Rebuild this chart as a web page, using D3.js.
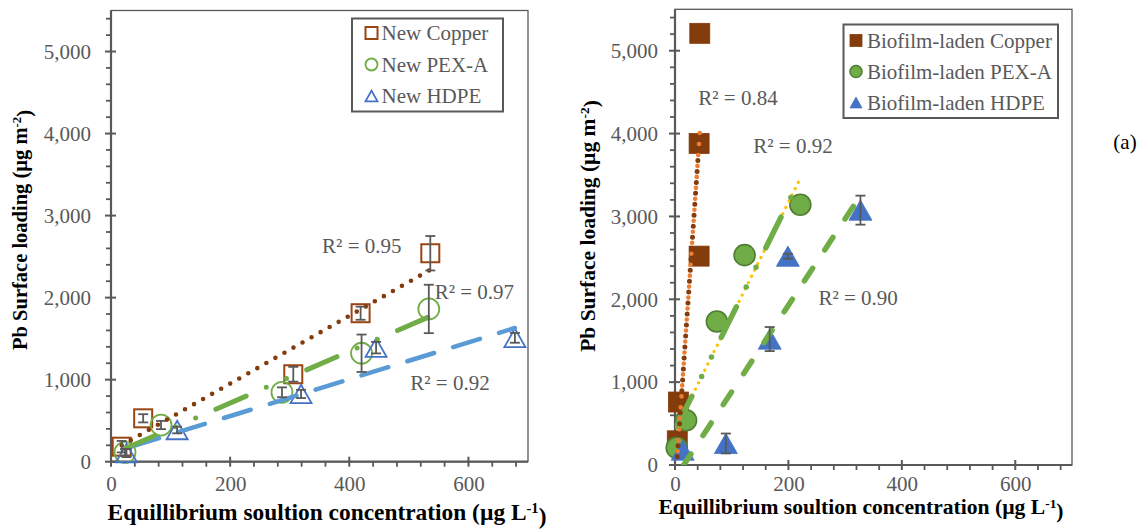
<!DOCTYPE html>
<html><head><meta charset="utf-8">
<script src="https://cdn.jsdelivr.net/npm/d3@7"></script>
<style>
html,body{margin:0;padding:0;background:#fff;}
svg{display:block;}
</style></head>
<body>
<svg id="c" width="1147" height="530"></svg>
<script>
// ---------- DATA ----------
const xTicks = [0, 200, 400, 600];
const yTicks = [0, 1000, 2000, 3000, 4000, 5000];

// Left panel: new pipes
const newCopperX = [18, 54, 306, 419, 536];
const newCopperY = [183, 529, 1066, 1810, 2541];
const newCopperErr = [70, 50, 90, 80, 210];
const newPexX = [23.5, 84, 287, 420.6, 533.5];
const newPexY = [114, 447, 846, 1322, 1862];
const newPexErr = [40, 50, 60, 228, 295];
const newHdpeX = [26, 111, 319, 445, 678];
const newHdpeY = [106, 386, 826, 1390, 1510];
const newHdpeErr = [50, 40, 50, 70, 60];

// Right panel: biofilm-laden pipes
const bioCopperX = [4, 6, 42.5, 42.5, 43.7];
const bioCopperY = [292, 760, 2521, 3881, 5210];
const bioCopperErr = [0, 0, 0, 0, 0];
const bioPexX = [3, 19.5, 73.8, 122.7, 221];
const bioPexY = [208, 540, 1732, 2533, 3141];
const bioPexErr = [0, 0, 0, 0, 0];
const bioHdpeX = [13.6, 89.7, 167, 199, 327];
const bioHdpeY = [180, 260, 1520, 2520, 3076];
const bioHdpeErr = [0, 120, 145, 30, 175];

// Trendline end points [x, y]
const trendNewCopper = [[18, 200], [536, 2340]];
const trendNewPex = [[23.5, 160], [533.5, 1765]];
const trendNewHdpe = [[26, 165], [678, 1630]];
const trendBioCopper = [[4, 100], [44.2, 4060]];
const trendBioPex = [[3, 462], [221, 3460]];
const trendBioHdpe = [[13.6, -18], [327, 3254]];

// R² annotations [x, y, text] in data units
const r2Left = [[421, 2630, "R² = 0.95"], [610, 2070, "R² = 0.97"], [569, 960, "R² = 0.92"]];
const r2Right = [[111, 4435, "R² = 0.84"], [208, 3850, "R² = 0.92"], [323, 2020, "R² = 0.90"]];

const legendLeft = ["New Copper", "New PEX-A", "New HDPE"];
const legendRight = ["Biofilm-laden Copper", "Biofilm-laden PEX-A", "Biofilm-laden HDPE"];
const xTitle = "Equillibrium soultion concentration (µg L";
const yTitle = "Pb Surface loading (µg m";

// ---------- STYLE ----------
const FONT = '"Liberation Serif", "Times New Roman", Tinos, "DejaVu Serif", serif';
const BROWN = "#843C0C", GREEN = "#70AD47", GREEN_D = "#507E32", BLUE = "#4472C4",
      BLUE_L = "#5B9BD5", ORANGE = "#ED7D31", YELLOW = "#FFC000", GREY = "#595959";

const svg = d3.select("#c").attr("font-family", FONT).style("font-family", FONT);
const zip = (xs, ys, es) => xs.map((x, i) => ({x, y: ys[i], e: es[i]}));
const txt = (sel) => sel.attr("font-family", FONT).style("font-family", FONT);

function triPath(w, h) {
  return `M0,${-h/2}L${w/2},${h/2}L${-w/2},${h/2}Z`;
}

function panel(cfg) {
  const g = svg.append("g");
  const x = d3.scaleLinear().domain([0, 700]).range(cfg.xr);
  const y = d3.scaleLinear().domain([0, 5500]).range(cfg.yr);
  const [L, R] = cfg.xr, [B, T] = cfg.yr;

  g.append("rect").attr("x", L).attr("y", T).attr("width", R - L).attr("height", B - T)
    .attr("fill", "none").attr("stroke", GREY).attr("stroke-width", 1.3);

  const clipId = "clip" + cfg.id;
  svg.append("clipPath").attr("id", clipId).append("rect")
    .attr("x", L).attr("y", T).attr("width", R - L).attr("height", B - T);

  g.append("line").attr("x1", L).attr("x2", L).attr("y1", T).attr("y2", B).attr("stroke", GREY).attr("stroke-width", 2.2);
  g.append("line").attr("x1", L).attr("x2", R).attr("y1", B).attr("y2", B).attr("stroke", GREY).attr("stroke-width", 2.2);

  d3.range(0, 5501, 200).forEach(v => {
    if (v % 1000 === 0) return;
    g.append("line").attr("x1", L - 5).attr("x2", L).attr("y1", y(v)).attr("y2", y(v)).attr("stroke", GREY).attr("stroke-width", 1.8);
  });
  d3.range(0, 701, 40).forEach(v => {
    if (v % 200 === 0) return;
    g.append("line").attr("x1", x(v)).attr("x2", x(v)).attr("y1", B).attr("y2", B + 5).attr("stroke", GREY).attr("stroke-width", 1.8);
  });
  yTicks.forEach(v => {
    g.append("line").attr("x1", L - 6).attr("x2", L + 5).attr("y1", y(v)).attr("y2", y(v)).attr("stroke", GREY).attr("stroke-width", 2);
  });
  xTicks.forEach(v => {
    g.append("line").attr("x1", x(v)).attr("x2", x(v)).attr("y1", B - 5).attr("y2", B + 5).attr("stroke", GREY).attr("stroke-width", 2);
  });

  const ya = d3.axisLeft(y).tickValues(yTicks).tickFormat(d3.format(",")).tickSize(0).tickPadding(cfg.yPad);
  const yg = g.append("g").attr("transform", `translate(${L},0)`).call(ya);
  const xa = d3.axisBottom(x).tickValues(xTicks).tickFormat(d3.format(",")).tickSize(0).tickPadding(cfg.xPad);
  const xg = g.append("g").attr("transform", `translate(0,${B})`).call(xa);
  [yg, xg].forEach(a => {
    a.attr("font-family", FONT).attr("font-size", 21);
    a.select(".domain").remove();
    txt(a.selectAll("text")).attr("fill", GREY).style("font-size", "21px");
  });

  cfg.series.forEach(s => {
    const m = g.append("g");
    s.data.forEach(p => {
      const cx = x(p.x), cy = y(p.y);
      if (s.shape === "square") {
        m.append("rect").attr("x", cx - s.size/2).attr("y", cy - s.size/2).attr("width", s.size).attr("height", s.size)
          .attr("fill", s.fill).attr("stroke", s.stroke).attr("stroke-width", s.sw);
      } else if (s.shape === "circle") {
        m.append("circle").attr("cx", cx).attr("cy", cy).attr("r", s.size/2)
          .attr("fill", s.fill).attr("stroke", s.stroke).attr("stroke-width", s.sw);
      } else {
        m.append("path").attr("d", triPath(s.size, s.size * 0.88)).attr("transform", `translate(${cx},${cy})`)
          .attr("fill", s.fill).attr("stroke", s.stroke).attr("stroke-width", s.sw);
      }
    });
  });

  const tg = g.append("g").attr("clip-path", `url(#${clipId})`);
  cfg.trends.forEach(t => {
    tg.append("line")
      .attr("x1", x(t.pts[0][0])).attr("y1", y(t.pts[0][1]))
      .attr("x2", x(t.pts[1][0])).attr("y2", y(t.pts[1][1]))
      .attr("stroke", t.color).attr("stroke-width", t.w)
      .attr("stroke-dasharray", t.dash).attr("stroke-dashoffset", t.off || 0)
      .attr("stroke-linecap", "round");
  });

  cfg.series.forEach(s => {
    s.data.forEach(p => {
      if (!p.e) return;
      const cx = x(p.x), y1 = y(p.y + p.e), y2 = y(p.y - p.e);
      g.append("line").attr("x1", cx).attr("x2", cx).attr("y1", y1).attr("y2", y2).attr("stroke", GREY).attr("stroke-width", 1.8);
      [y1, y2].forEach(yy => g.append("line").attr("x1", cx - 5).attr("x2", cx + 5).attr("y1", yy).attr("y2", yy)
        .attr("stroke", GREY).attr("stroke-width", 1.8));
    });
  });

  cfg.r2.forEach(r => {
    txt(g.append("text")).attr("x", x(r[0])).attr("y", y(r[1])).attr("text-anchor", "middle")
      .attr("dy", "0.35em").attr("fill", GREY).style("font-size", "21px").text(r[2]);
  });

  const lg = cfg.legend;
  g.append("rect").attr("x", lg.x).attr("y", lg.y).attr("width", lg.w).attr("height", lg.h)
    .attr("fill", "#fff").attr("stroke", GREY).attr("stroke-width", 2);
  lg.labels.forEach((lab, i) => {
    const s = cfg.series[i];
    const cy = lg.y + lg.first + i * lg.step, cx = lg.x + lg.mx;
    const sz = lg.msize;
    if (s.shape === "square") {
      g.append("rect").attr("x", cx - sz/2).attr("y", cy - sz/2).attr("width", sz).attr("height", sz)
        .attr("fill", s.fill).attr("stroke", s.stroke).attr("stroke-width", Math.min(s.sw, 2));
    } else if (s.shape === "circle") {
      g.append("circle").attr("cx", cx).attr("cy", cy).attr("r", sz/2)
        .attr("fill", s.fill).attr("stroke", s.stroke).attr("stroke-width", Math.min(s.sw, 2));
    } else {
      g.append("path").attr("d", triPath(sz, sz * 0.9)).attr("transform", `translate(${cx},${cy})`)
        .attr("fill", s.fill).attr("stroke", s.stroke).attr("stroke-width", Math.min(s.sw, 2));
    }
    txt(g.append("text")).attr("x", lg.x + lg.tx).attr("y", cy).attr("dy", "0.35em")
      .attr("fill", GREY).style("font-size", "21px").text(lab);
  });

  const xt = txt(g.append("text")).attr("x", cfg.xTitle[0]).attr("y", cfg.xTitle[1]).attr("text-anchor", "middle")
    .attr("fill", "#000").style("font-weight", "bold").style("font-size", cfg.xTitle[2] + "px");
  xt.append("tspan").text(xTitle);
  xt.append("tspan").attr("dy", "-0.45em").style("font-size", "0.62em").text("-1");
  xt.append("tspan").attr("dy", "0.45em").text(")");

  const yt = txt(g.append("text")).attr("transform", `translate(${cfg.yTitle[0]},${cfg.yTitle[1]}) rotate(-90)`)
    .attr("text-anchor", "middle").attr("dy", "0.35em")
    .attr("fill", "#000").style("font-weight", "bold").style("font-size", cfg.yTitle[2] + "px");
  yt.append("tspan").text(yTitle);
  yt.append("tspan").attr("dy", "-0.45em").style("font-size", "0.62em").text("-2");
  yt.append("tspan").attr("dy", "0.45em").text(")");
}

panel({
  id: "L",
  xr: [111, 528], yr: [461.7, 10.5], yPad: 20, xPad: 14,
  series: [
    {data: zip(newCopperX, newCopperY, newCopperErr), shape: "square", size: 18, fill: "none", stroke: "#9A4513", sw: 2},
    {data: zip(newPexX, newPexY, newPexErr), shape: "circle", size: 21, fill: "none", stroke: GREEN, sw: 1.8},
    {data: zip(newHdpeX, newHdpeY, newHdpeErr), shape: "tri", size: 21, fill: "none", stroke: BLUE, sw: 1.8}
  ],
  trends: [
    {pts: trendNewHdpe, color: BLUE_L, w: 4.5, dash: "28 20", off: -6},
    {pts: trendNewPex, color: GREEN, w: 5, dash: "33 22 0 22 0 22"},
    {pts: trendNewCopper, color: BROWN, w: 4.6, dash: "0 10.4"}
  ],
  r2: r2Left,
  legend: {x: 352, y: 18.5, w: 151, h: 93, first: 14.5, step: 31.5, mx: 19.5, tx: 29.5, msize: 12, labels: legendLeft},
  xTitle: [327, 520, 23.4],
  yTitle: [20, 230, 20.5]
});

panel({
  id: "R",
  xr: [675, 1072], yr: [465, 9.3], yPad: 17, xPad: 11,
  series: [
    {data: zip(bioCopperX, bioCopperY, bioCopperErr), shape: "square", size: 20, fill: BROWN, stroke: BROWN, sw: 0.8},
    {data: zip(bioPexX, bioPexY, bioPexErr), shape: "circle", size: 21, fill: GREEN, stroke: GREEN_D, sw: 1.6},
    {data: zip(bioHdpeX, bioHdpeY, bioHdpeErr), shape: "tri", size: 23, fill: BLUE, stroke: BLUE, sw: 0.8}
  ],
  trends: [
    {pts: trendBioHdpe, color: GREEN, w: 5.5, dash: "15 22"},
    {pts: trendBioPex, color: YELLOW, w: 3.4, dash: "0 7"},
    {pts: trendBioPex, color: GREEN, w: 5.5, dash: "34 22 0 22 0 22"},
    {pts: trendBioCopper, color: BROWN, w: 5, dash: "0 11"},
    {pts: trendBioCopper, color: ORANGE, w: 4.6, dash: "0 11", off: 5.5}
  ],
  r2: r2Right,
  legend: {x: 843.5, y: 24.5, w: 214.5, h: 93.5, first: 16, step: 31, mx: 12.5, tx: 23.5, msize: 12, labels: legendRight},
  xTitle: [861, 514, 21.6],
  yTitle: [587, 226, 21.5]
});

txt(svg.append("text")).attr("x", 1125).attr("y", 149).attr("text-anchor", "middle")
  .attr("fill", "#000").style("font-size", "21px").text("(a)");
</script>
</body></html>
